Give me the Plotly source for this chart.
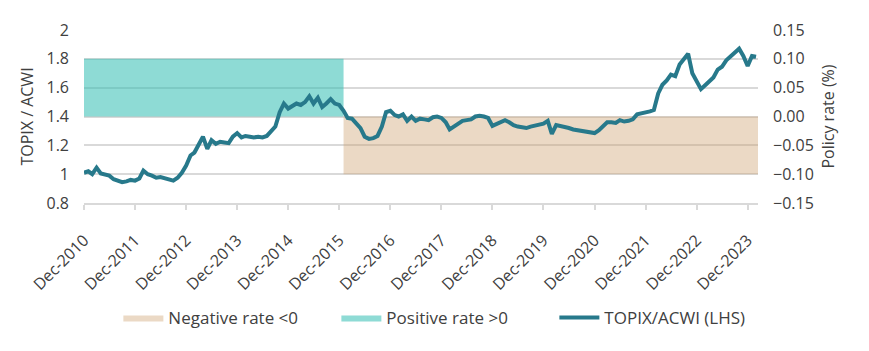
import pandas as pd
import plotly.graph_objects as go

# TOPIX / ACWI relative performance, month-end readings from Dec-2010
topix_acwi = [
    1.01, 1.02, 1.00, 1.045, 1.005, 1.00, 0.99, 0.965, 0.955, 0.945, 0.95, 0.96,
    0.955, 0.97, 1.025, 1.00, 0.99, 0.975, 0.98, 0.97, 0.96, 0.955, 0.975, 1.01,
    1.06, 1.13, 1.15, 1.21, 1.26, 1.175, 1.235, 1.21, 1.225, 1.22, 1.215, 1.26,
    1.285, 1.255, 1.265, 1.26, 1.255, 1.26, 1.255, 1.265, 1.30, 1.33, 1.43, 1.49,
    1.455, 1.475, 1.49, 1.48, 1.50, 1.54, 1.49, 1.53, 1.465, 1.49, 1.52, 1.49,
    1.48, 1.44, 1.39, 1.385, 1.355, 1.32, 1.26, 1.245, 1.25, 1.265, 1.33, 1.43,
    1.44, 1.41, 1.40, 1.415, 1.37, 1.40, 1.37, 1.385, 1.38, 1.375, 1.395, 1.40,
    1.39, 1.36, 1.31, 1.33, 1.355, 1.37, 1.375, 1.38, 1.40, 1.405, 1.40, 1.39,
    1.335, 1.35, 1.365, 1.375, 1.36, 1.34, 1.33, 1.325, 1.32, 1.33, 1.335, 1.34,
    1.35, 1.37, 1.28, 1.34, 1.335, 1.33, 1.32, 1.31, 1.305, 1.305, 1.30, 1.295,
    1.285, 1.305, 1.33, 1.36, 1.36, 1.355, 1.375, 1.365, 1.37, 1.38, 1.415, 1.42,
    1.43, 1.435, 1.445, 1.56, 1.62, 1.65, 1.69, 1.68, 1.76, 1.80, 1.835, 1.70,
    1.64, 1.59, 1.615, 1.645, 1.67, 1.725, 1.745, 1.79, 1.82, 1.84, 1.87, 1.82,
    1.75, 1.82, 1.815,
]
dates = pd.date_range(start="2010-12-01", periods=len(topix_acwi), freq="MS") + pd.offsets.MonthEnd(0)

# Policy rate regimes (%)
pos_dates = ["2010-12-31", "2016-01-31"]
pos_rate = [0.1, 0.1]
neg_dates = ["2016-01-31", "2024-03-14"]
neg_rate = [-0.1, -0.1]

x_range = ["2010-12-31", "2024-03-14"]

TEXT = "#404040"
GRID = "#d9d9d9"
FONT = "Open Sans"
FS = 16

fig = go.Figure()
fig.add_trace(go.Scatter(
    x=neg_dates, y=neg_rate, mode="lines", fill="tozeroy",
    fillcolor="rgba(205,160,110,0.4)", line=dict(width=0),
    name="Negative rate <0", yaxis="y", hoverinfo="skip"))
fig.add_trace(go.Scatter(
    x=pos_dates, y=pos_rate, mode="lines", fill="tozeroy",
    fillcolor="rgba(54,190,180,0.56)", line=dict(width=0),
    name="Positive rate >0", yaxis="y", hoverinfo="skip"))
fig.add_trace(go.Scatter(
    x=dates, y=topix_acwi, mode="lines",
    line=dict(color="#27798B", width=4),
    name="TOPIX/ACWI (LHS)", yaxis="y2"))

fig.update_layout(
    width=869, height=351, autosize=False,
    margin=dict(l=84, r=111, t=30, b=148),
    paper_bgcolor="white", plot_bgcolor="white",
    font=dict(family=FONT, size=FS, color=TEXT),
    showlegend=True,
    legend=dict(orientation="h", x=0.051, xanchor="left", y=-0.665, yanchor="middle",
                font=dict(size=17, color=TEXT), itemwidth=40,
                entrywidth=163, entrywidthmode="pixels"),
    xaxis=dict(
        type="date", range=x_range, tick0="2010-12-31", dtick="M12",
        tickformat="%b-%Y", tickangle=-45, showgrid=False,
        showline=True, linecolor=GRID, linewidth=1.5,
        ticks="outside", ticklen=5, tickcolor=GRID, tickwidth=1.5,
        ticklabelstandoff=15,
        tickfont=dict(size=FS, color=TEXT)),
    yaxis=dict(
        side="right", range=[-0.15, 0.15], dtick=0.05, tick0=-0.15,
        tickformat=".2f", showgrid=True, gridcolor=GRID, gridwidth=1.5,
        zeroline=False, showline=False, ticklabelstandoff=14,
        title=dict(text="Policy rate (%)", standoff=10, font=dict(size=FS, color=TEXT)),
        tickfont=dict(size=FS, color=TEXT)),
    yaxis2=dict(
        side="left", overlaying="y", range=[0.8, 2.0], dtick=0.2, tick0=0.8,
        showgrid=False, zeroline=False, showline=False, ticklabelstandoff=14,
        title=dict(text="TOPIX / ACWI", standoff=8, font=dict(size=FS, color=TEXT)),
        tickfont=dict(size=FS, color=TEXT)),
)

fig.write_html("out.html")
